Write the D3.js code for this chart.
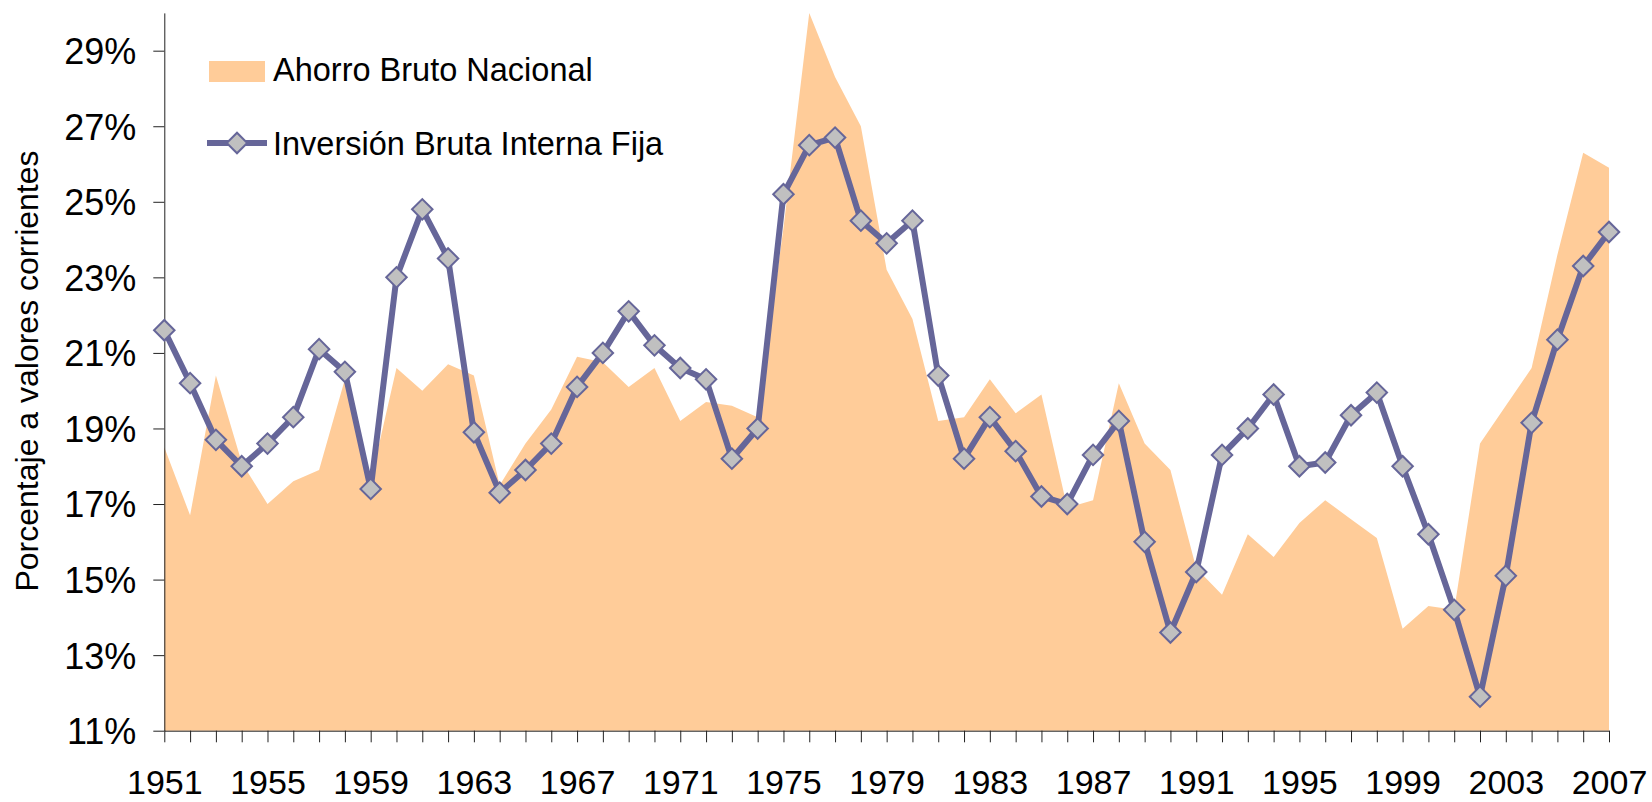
<!DOCTYPE html>
<html>
<head>
<meta charset="utf-8">
<script src="https://cdn.jsdelivr.net/npm/d3@7"></script>
<style>
  body { margin: 0; background: #fff; }
  text { font-family: "Liberation Sans", Arial, sans-serif; fill: #000; }
</style>
</head>
<body>
<div class="visual"></div>
<script>
// data
const years = d3.range(1951, 2008);
const ahorro = [18.5, 16.7, 20.4, 18.1, 17.0, 17.6, 17.9, 20.3, 17.6, 20.6,
  20.0, 20.7, 20.4, 17.5, 18.6, 19.5, 20.9, 20.75, 20.1, 20.6,
  19.2, 19.7, 19.6, 19.3, 24.3, 30.0, 28.3, 27.0, 23.2, 21.9,
  19.2, 19.3, 20.3, 19.4, 19.9, 16.9, 17.1, 20.2, 18.6, 17.9,
  15.3, 14.6, 16.2, 15.6, 16.5, 17.1, 16.6, 16.1, 13.7, 14.3,
  14.2, 18.6, 19.6, 20.6, 23.6, 26.3, 25.9];
const inversion = [21.6, 20.2, 18.7, 18.0, 18.6, 19.3, 21.1, 20.5, 17.4, 23.0,
  24.8, 23.5, 18.9, 17.3, 17.9, 18.6, 20.1, 21.0, 22.1, 21.2,
  20.6, 20.3, 18.2, 19.0, 25.2, 26.5, 26.7, 24.5, 23.9, 24.5,
  20.4, 18.2, 19.3, 18.4, 17.2, 17.0, 18.3, 19.2, 16.0, 13.6,
  15.2, 18.3, 19.0, 19.9, 18.0, 18.1, 19.35, 19.95, 18.0, 16.2,
  14.2, 11.9, 15.1, 19.15, 21.35, 23.3, 24.2];
const yTicks = [11, 13, 15, 17, 19, 21, 23, 25, 27, 29];
const xLabels = [1951, 1955, 1959, 1963, 1967, 1971, 1975, 1979, 1983, 1987, 1991, 1995, 1999, 2003, 2007];
const legendNames = ["Ahorro Bruto Nacional", "Inversión Bruta Interna Fija"];
const yTitle = "Porcentaje a valores corrientes";

const width = 1652, height = 802;
const areaColor = "#FFCC99", lineColor = "#666699", markerFill = "#C0C0C0";

const svg = d3.select(".visual").append("svg")
  .attr("width", width).attr("height", height);

const x = d3.scaleLinear().domain([1951, 2007]).range([164.3, 1609]);
const y = d3.scaleLinear().domain([11, 30]).range([730.7, 12.9]);

//area
const area = d3.area()
  .x((d, i) => x(years[i]))
  .y0(y(11))
  .y1(d => y(d));
svg.append("path")
  .datum(ahorro)
  .attr("d", area)
  .attr("fill", areaColor);

//axes
const yAxis = svg.append("g")
  .attr("transform", "translate(" + x(1951) + ",0)")
  .call(d3.axisLeft(y).tickValues(yTicks).tickSize(11).tickSizeOuter(0).tickPadding(17)
    .tickFormat(d => d + "%"));
yAxis.selectAll("text")
  .style("font-size", "36px")
  .attr("dy", "0.36em");

const xAxis = svg.append("g")
  .attr("transform", "translate(0," + y(11) + ")")
  .call(d3.axisBottom(x).tickValues(years).tickSize(11.6).tickSizeOuter(0)
    .tickFormat(d => xLabels.includes(d) ? d : ""));
xAxis.selectAll("text")
  .style("font-size", "34px")
  .attr("y", 39)
  .attr("dy", "0.71em");
svg.selectAll(".domain, .tick line").attr("stroke", "#222").attr("stroke-width", 1);

//line + markers
const line = d3.line()
  .x((d, i) => x(years[i]))
  .y(d => y(d));
svg.append("path")
  .datum(inversion)
  .attr("d", line)
  .attr("fill", "none")
  .attr("stroke", lineColor)
  .attr("stroke-width", 6)
  .attr("stroke-linejoin", "round");

const diamond = d3.symbol().type(d3.symbolSquare).size(210);
svg.selectAll(".dot")
  .data(inversion)
  .enter()
  .append("path")
  .attr("class", "dot")
  .attr("d", diamond)
  .attr("transform", (d, i) => "translate(" + x(years[i]) + "," + y(d) + ") rotate(45)")
  .attr("fill", markerFill)
  .attr("stroke", lineColor)
  .attr("stroke-width", 2);

//y title
svg.append("text")
  .attr("transform", "translate(38,371) rotate(-90)")
  .attr("text-anchor", "middle")
  .style("font-size", "32px")
  .text(yTitle);

//legend
svg.append("rect")
  .attr("x", 209).attr("y", 61)
  .attr("width", 56).attr("height", 21)
  .attr("fill", areaColor);
svg.append("text")
  .attr("x", 273).attr("y", 81)
  .style("font-size", "32.5px")
  .text(legendNames[0]);

svg.append("line")
  .attr("x1", 207).attr("x2", 267)
  .attr("y1", 143).attr("y2", 143)
  .attr("stroke", lineColor)
  .attr("stroke-width", 6);
svg.append("path")
  .attr("d", diamond)
  .attr("transform", "translate(237,143) rotate(45)")
  .attr("fill", markerFill)
  .attr("stroke", lineColor)
  .attr("stroke-width", 2);
svg.append("text")
  .attr("x", 273).attr("y", 155)
  .style("font-size", "32.5px")
  .text(legendNames[1]);
</script>
</body>
</html>
